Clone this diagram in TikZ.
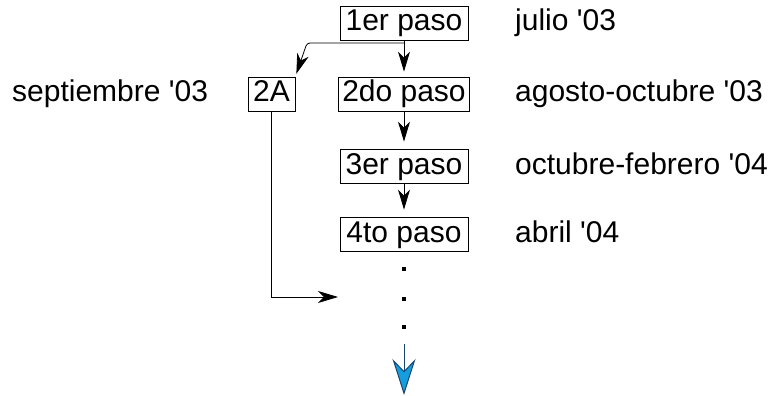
\documentclass[tikz,border=0pt]{standalone}
\usepackage{fontspec}
\setmainfont{Liberation Sans}[Ligatures=TeXOff]
\usetikzlibrary{arrows.meta}
\definecolor{arrowblue}{RGB}{20,158,222}
\definecolor{arrowline}{RGB}{25,70,110}
\begin{document}
\begin{tikzpicture}[x=1pt,y=-1pt,
  txt/.style={font=\fontsize{30}{36}\selectfont, text height=23pt, text depth=7pt, inner ysep=2pt},
  pbox/.style={txt, draw, line width=0.8pt, minimum width=128pt, inner xsep=4pt},
  lbl/.style={txt, anchor=west, inner xsep=0pt},
  arr/.style={-{Stealth[length=20pt,width=12pt,inset=6pt]}, line width=0.8pt},
  dotsq/.style={fill, inner sep=0pt, minimum size=4pt}]
\useasboundingbox (0,0) rectangle (772,396);
% step boxes
\node[pbox] (p1) at (404,23) {1er paso};
\node[pbox] (p2) at (404,94) {2do paso};
\node[pbox] (p3) at (404,166) {3er paso};
\node[pbox] (p4) at (404,234) {4to paso};
\node[pbox, minimum width=47pt] (a2) at (271.5,94) {2A};
% labels
\node[lbl] (l1) at (515,23) {julio '03};
\node[lbl] (l2) at (515,94) {agosto-octubre '03};
\node[lbl] (l3) at (515,166) {octubre-febrero '04};
\node[lbl] (l4) at (515,234) {abril '04};
\node[lbl] (ls) at (12,94) {septiembre '03};
% connectors
\coordinate (j) at (p1.south |- 0,43);
\coordinate (k) at (307,43);
\coordinate (m) at (340,297);
\draw[arr, shorten >=5pt] (p1.south) -- (p2.north);
\draw[arr, rounded corners=3pt, shorten >=3pt] (j) -- (k) -- (a2.north east);
\draw[arr, shorten >=7pt] (p2.south) -- (p3.north);
\draw[arr, shorten >=7pt] (p3.south) -- (p4.north);
\draw[arr, shorten >=2pt] (a2.south) |- (m);
% dots
\node[dotsq] (d1) at (404,269) {};
\node[dotsq] (d2) at (404,299) {};
\node[dotsq] (d3) at (404,327) {};
% blue arrow
\coordinate (b0) at (404,344);
\coordinate (b1) at (404,395);
\draw[draw=arrowline, line width=1pt, -{Stealth[length=36pt,width=23pt,inset=12pt,fill=arrowblue]}] (b0) -- (b1);
\end{tikzpicture}
\end{document}
